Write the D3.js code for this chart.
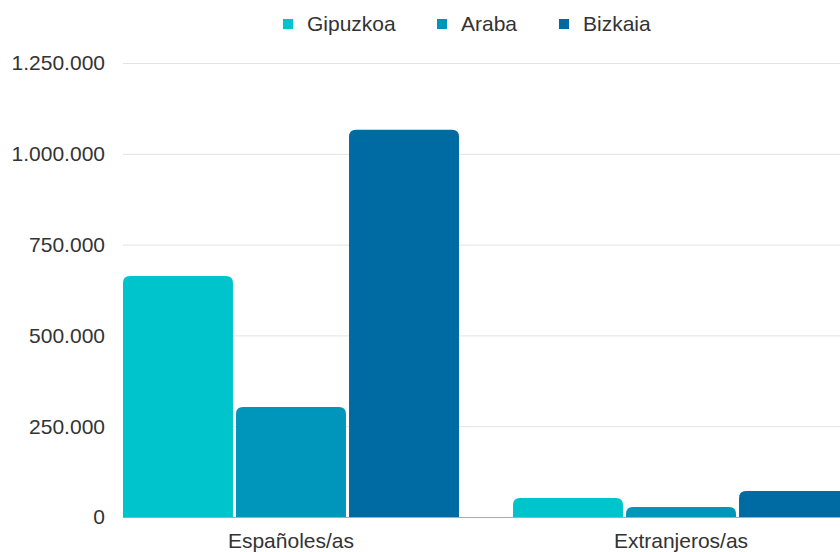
<!DOCTYPE html>
<html>
<head>
<meta charset="utf-8">
<script src="https://cdn.jsdelivr.net/npm/d3@7"></script>
<style>
  body { margin: 0; background: #fff; }
  svg text { font-family: "Liberation Sans", Arial, sans-serif; fill: #333; }
</style>
</head>
<body>
<div id="chart"></div>
<script>
// datos
const categories = ["Españoles/as", "Extranjeros/as"];
const provinces = ["Gipuzkoa", "Araba", "Bizkaia"];
const gipuzkoa = [663500, 52000];
const araba = [303000, 27500];
const bizkaia = [1066000, 71500];
const yTicks = [0, 250000, 500000, 750000, 1000000, 1250000];

const colors = ["#00c4cc", "#0096bb", "#006ba3"];
const seriesValues = [gipuzkoa, araba, bizkaia];

const W = 840, H = 552;
const plotLeft = 123, plotTop = 63, plotBottom = 517;

const svg = d3.select("#chart").append("svg")
  .attr("width", W).attr("height", H);

// escalas
const x0 = d3.scaleBand()
  .domain(categories)
  .range([96, 876])
  .paddingInner(0.1385)
  .paddingOuter(0.0692);

const x1 = d3.scaleBand()
  .domain(provinces)
  .range([0, x0.bandwidth()])
  .paddingInner(0.027);

const y = d3.scaleLinear()
  .domain([0, 1250000])
  .range([plotBottom, plotTop]);

const fmt = v => d3.format(",")(v).replace(/,/g, ".");

// rejilla
svg.append("g")
  .selectAll("line")
  .data(yTicks.slice(1))
  .join("line")
    .attr("x1", plotLeft).attr("x2", W)
    .attr("y1", d => y(d) + 0.5).attr("y2", d => y(d) + 0.5)
    .attr("stroke", "#e3e3e3").attr("stroke-width", 1);

// etiquetas eje y
svg.append("g")
  .selectAll("text")
  .data(yTicks)
  .join("text")
    .attr("x", 105)
    .attr("y", d => y(d))
    .attr("dy", "0.35em")
    .attr("text-anchor", "end")
    .style("font-size", "21px")
    .text(fmt);

// barras con esquinas superiores redondeadas
function topRounded(x, yTop, w, h, r) {
  r = Math.min(r, h, w / 2);
  return `M${x},${yTop + h}V${yTop + r}Q${x},${yTop} ${x + r},${yTop}` +
    `H${x + w - r}Q${x + w},${yTop} ${x + w},${yTop + r}V${yTop + h}Z`;
}

const rows = [];
categories.forEach((c, ci) => {
  provinces.forEach((p, pi) => {
    rows.push({ cat: c, prov: p, value: seriesValues[pi][ci], color: colors[pi] });
  });
});

svg.append("g")
  .selectAll("path")
  .data(rows)
  .join("path")
    .attr("d", d => {
      const bx = x0(d.cat) + x1(d.prov);
      const top = y(d.value);
      return topRounded(bx, top, x1.bandwidth(), plotBottom - top, 7);
    })
    .attr("fill", d => d.color);

// línea base
svg.append("line")
  .attr("x1", plotLeft).attr("x2", W)
  .attr("y1", plotBottom + 0.5).attr("y2", plotBottom + 0.5)
  .attr("stroke", "#aaa");

// etiquetas de categoría
svg.append("g")
  .selectAll("text")
  .data(categories)
  .join("text")
    .attr("x", d => x0(d) + x0.bandwidth() / 2)
    .attr("y", 548)
    .attr("text-anchor", "middle")
    .style("font-size", "21px")
    .text(d => d);

// leyenda
const legendX = [283, 437, 559];
const legend = svg.append("g")
  .selectAll("g")
  .data(provinces)
  .join("g")
    .attr("transform", (d, i) => `translate(${legendX[i]}, 19)`);

legend.append("rect")
  .attr("width", 10).attr("height", 10)
  .attr("fill", (d, i) => colors[i]);

legend.append("text")
  .attr("x", 24).attr("y", 5)
  .attr("dy", "0.35em")
  .style("font-size", "21px")
  .text(d => d);
</script>
</body>
</html>
